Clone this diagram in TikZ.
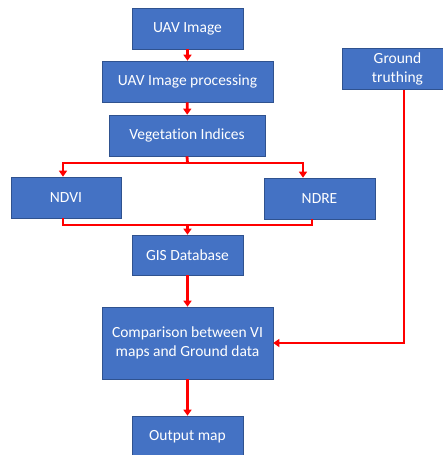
\documentclass[tikz,border=0pt]{standalone}
\usepackage{fontspec}
\setmainfont{Carlito}[Ligatures={NoCommon}]
\usetikzlibrary{arrows.meta}
\definecolor{boxblue}{HTML}{4472C4}
\definecolor{boxedge}{HTML}{2F528F}
\definecolor{linkred}{HTML}{FF0000}
\begin{document}
\begin{tikzpicture}[x=1pt,y=-1pt,
  box/.style={draw=boxedge,line width=0.6pt,fill=boxblue,text=white,font=\fontsize{15.5}{19}\selectfont,align=center,inner sep=0pt},
  link/.style={draw=linkred,line width=2.8pt,-{Triangle[length=6pt,width=8pt]}},
  plain/.style={draw=linkred,line width=2.8pt}]
\useasboundingbox (0,0) rectangle (443,455);
\clip (0,0) rectangle (443,455);
\node[box,minimum width=111pt,minimum height=41pt] (uav) at (187.5,28.5) {UAV Image};
\node[box,minimum width=171pt,minimum height=41pt] (proc) at (187.5,81.5) {UAV Image processing};
\node[box,minimum width=156pt,minimum height=41pt] (vi) at (187,135.5) {Vegetation Indices};
\node[box,minimum width=110pt,minimum height=41pt] (ndvi) at (66,197.5) {NDVI};
\node[box,minimum width=111pt,minimum height=41pt] (ndre) at (319.5,198.5) {NDRE};
\node[box,minimum width=111pt,minimum height=41pt] (gt) at (397.5,69) {Ground\\truthing};
\node[box,minimum width=111pt,minimum height=40pt] (gis) at (187.5,255) {GIS Database};
\node[box,minimum width=171pt,minimum height=72pt] (cmp) at (187.5,343) {Comparison between VI\\maps and Ground data};
\node[box,minimum width=111pt,minimum height=41pt] (out) at (187.5,436.5) {Output map};
\coordinate (split) at (187.5,163);
\coordinate (join) at (187.5,225);
\draw[link] (uav) -- (proc);
\draw[link] (proc) -- (vi);
\draw[plain] (vi.south) -- (split);
\draw[link] (split) -| ([xshift=-3pt]ndvi.north);
\draw[link] (split) -| ([xshift=-16.5pt]ndre.north);
\draw[plain] ([xshift=-3pt]ndvi.south) |- (join);
\draw[plain] ([xshift=-7.5pt]ndre.south) |- (join);
\draw[link] (join) -- (gis.north);
\draw[link] (gis) -- (cmp);
\draw[link] ([xshift=6.5pt]gt.south) |- (cmp.east);
\draw[link] (cmp) -- (out);
\end{tikzpicture}
\end{document}
